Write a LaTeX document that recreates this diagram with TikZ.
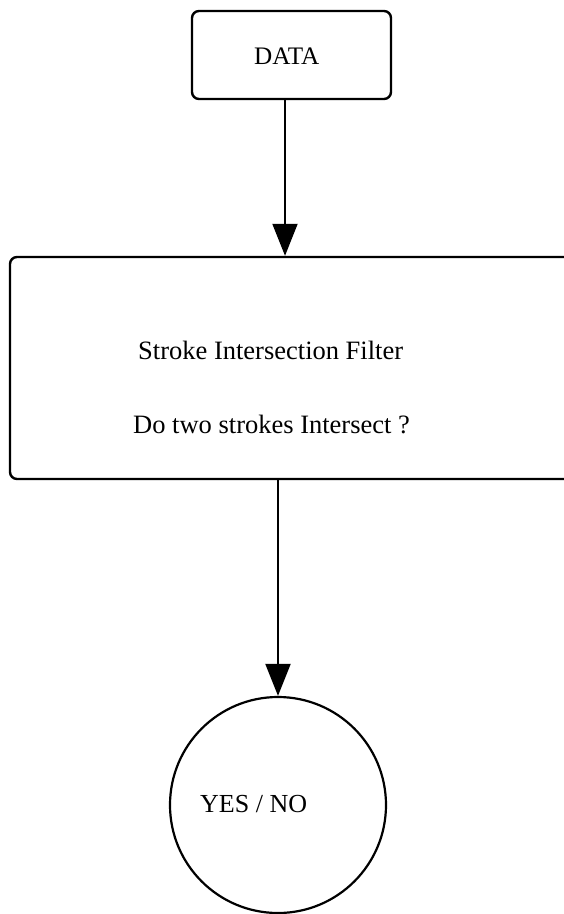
\documentclass[tikz,border=0pt]{standalone}
\usepackage{fontspec}
\setmainfont{Liberation Serif}
\usetikzlibrary{arrows.meta}

\begin{document}
\begin{tikzpicture}[x=1pt, y=-1pt,
  frame/.style={draw=black, line width=2.4pt, rounded corners=7pt, inner sep=0pt},
  ring/.style={draw=black, line width=2.2pt, circle, inner sep=0pt, minimum size=216pt},
  lbl/.style={font=\fontsize{26.5}{30}\selectfont, anchor=base west, inner sep=0pt},
  flow/.style={line width=2pt, -{Triangle[length=32pt, width=25pt]}}]
  \useasboundingbox (0,0) rectangle (564,914);
  \clip (0,0) rectangle (564,914);
  \fill[white] (0,0) rectangle (564,914);

  % input block
  \node[frame, minimum width=199pt, minimum height=88pt] (data) at (291.5,55) {};
  \node[lbl, font=\fontsize{25.2}{28}\selectfont] (datatext) at (254,64) {DATA};

  % filter block, running off the right edge
  \node[frame, minimum width=600pt, minimum height=222pt] (filter) at (310,368) {};
  \node[lbl] (ftitle) at (138,359) {Stroke Intersection Filter};
  \node[lbl] (fquestion) at (133,433) {Do two strokes Intersect ?};

  % result
  \node[ring] (result) at (278,805) {};
  \node[lbl, font=\fontsize{26}{30}\selectfont] (resulttext) at (200,812) {YES / NO};

  % connectors
  \coordinate (c1) at (285,0);
  \draw[flow] (data.south -| c1) -- (filter.north -| c1);
  \draw[flow] (filter.south -| result.north) -- (result.north);
\end{tikzpicture}
\end{document}
